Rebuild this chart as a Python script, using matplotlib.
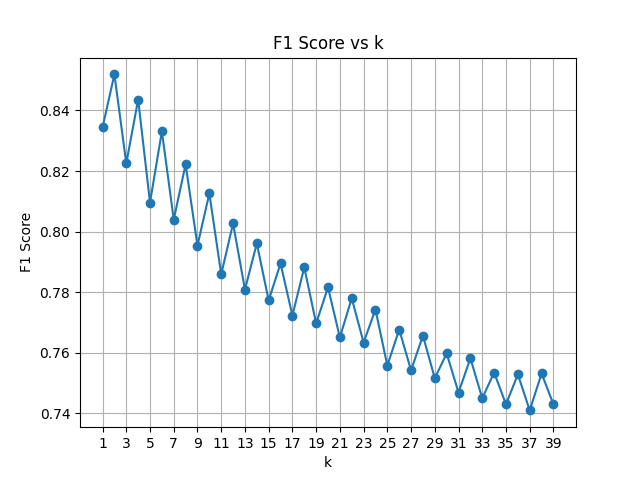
import matplotlib
matplotlib.use("Agg")
import matplotlib.pyplot as plt

k_values = list(range(1, 40))
f1_scores = [0.8344, 0.8519, 0.8225, 0.8436, 0.8096, 0.8331, 0.8040, 0.8222, 0.7954, 0.8126,
             0.7859, 0.8027, 0.7809, 0.7961, 0.7773, 0.7895, 0.7723, 0.7882, 0.7697, 0.7816,
             0.7651, 0.7780, 0.7634, 0.7743, 0.7558, 0.7677, 0.7542, 0.7657, 0.7516, 0.7598,
             0.7469, 0.7582, 0.7450, 0.7535, 0.7430, 0.7529, 0.7410, 0.7532, 0.7430]
xticks = list(range(1, 40, 2))

fig, ax = plt.subplots(figsize=(6.4, 4.8), dpi=100)
ax.plot(k_values, f1_scores, marker='o')
ax.set_title("F1 Score vs k")
ax.set_xlabel("k")
ax.set_ylabel("F1 Score")
ax.set_xticks(xticks)
ax.grid(True)
fig.savefig("out.png")
